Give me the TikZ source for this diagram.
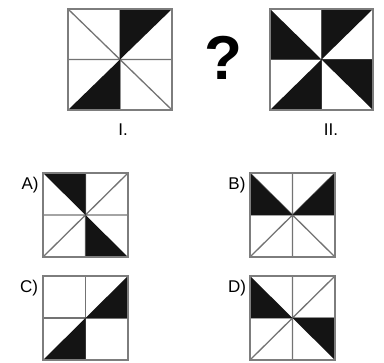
\documentclass[tikz,border=0pt]{standalone}
\usepackage{fontspec}
\setmainfont{Liberation Sans}
\usetikzlibrary{positioning}
\definecolor{LineGray}{RGB}{115,115,115}
\definecolor{FrameGray}{RGB}{125,125,125}
\tikzset{every node/.style={font=\fontsize{17}{17}\selectfont},
  every path/.style={line cap=round, line join=round},
  guide/.style={draw=LineGray, line width=1.3pt},
  blackpart/.style={fill=black!92},
  boxframe/.style={draw=FrameGray, line width=2.4pt, line join=miter, line cap=rect}}

\begin{document}
\begin{tikzpicture}[x=1pt, y=-1pt]
    \useasboundingbox (0,0) rectangle (384,363);
    % figure I
    \begin{scope}[shift={(120,59.5)}, xscale=52, yscale=50.5]
        \draw [guide] (0,-1) -- (0,1) (-1,0) -- (1,0) (-1,-1) -- (1,1);
        \fill [blackpart] (0,-1) -- (1,-1) -- (0,0) -- cycle (-1,1) -- (0,1) -- (0,0) -- cycle;
        \draw [boxframe] (-1,-1) rectangle (1,1);
    \end{scope}
    % figure II
    \begin{scope}[shift={(321.5,59.5)}, xscale=51.5, yscale=50.5]
        \draw [guide] (0,-1) -- (0,1) (-1,0) -- (1,0);
        \fill [blackpart] (-1,-1) -- (-1,0) -- (0,0) -- cycle (0,-1) -- (1,-1) -- (0,0) -- cycle
            (1,0) -- (1,1) -- (0,0) -- cycle (-1,1) -- (0,1) -- (0,0) -- cycle;
        \draw [boxframe] (-1,-1) rectangle (1,1);
    \end{scope}
    \node (qmark) at (223,58) {\fontsize{62}{62}\selectfont\bfseries ?};
    \node (lblI) at (123,130) {I.};
    \node (lblII) at (331,130) {II.};
    % answer A
    \begin{scope}[shift={(85.5,215)}, xscale=42.5, yscale=42]
        \draw [guide] (0,-1) -- (0,1) (-1,0) -- (1,0) (-1,1) -- (1,-1);
        \fill [blackpart] (-1,-1) -- (0,-1) -- (0,0) -- cycle (0,0) -- (0,1) -- (1,1) -- cycle;
        \draw [boxframe] (-1,-1) rectangle (1,1);
    \end{scope}
    % answer B
    \begin{scope}[shift={(292.5,215)}, xscale=42.5, yscale=42]
        \draw [guide] (0,-1) -- (0,1) (-1,0) -- (1,0) (-1,1) -- (1,-1) (-1,-1) -- (1,1);
        \fill [blackpart] (-1,-1) -- (-1,0) -- (0,0) -- cycle (1,-1) -- (1,0) -- (0,0) -- cycle;
        \draw [boxframe] (-1,-1) rectangle (1,1);
    \end{scope}
    % answer C
    \begin{scope}[shift={(85.5,318)}, xscale=42.5, yscale=42]
        \draw [guide] (0,-1) -- (0,1) (-1,0) -- (1,0);
        \fill [blackpart] (1,-1) -- (1,0) -- (0,0) -- cycle (0,0) -- (0,1) -- (-1,1) -- cycle;
        \draw [boxframe] (-1,-1) rectangle (1,1);
    \end{scope}
    % answer D
    \begin{scope}[shift={(292.5,318)}, xscale=42.5, yscale=42]
        \draw [guide] (0,-1) -- (0,1) (-1,0) -- (1,0) (-1,1) -- (1,-1);
        \fill [blackpart] (-1,-1) -- (-1,0) -- (0,0) -- cycle (0,0) -- (1,0) -- (1,1) -- cycle;
        \draw [boxframe] (-1,-1) rectangle (1,1);
    \end{scope}
    \node (lblA) at (30,185) {A)};
    \node (lblB) at (237,185) {B)};
    \node (lblC) at (29,288) {C)};
    \node (lblD) at (237,288) {D)};
\end{tikzpicture}
\end{document}
